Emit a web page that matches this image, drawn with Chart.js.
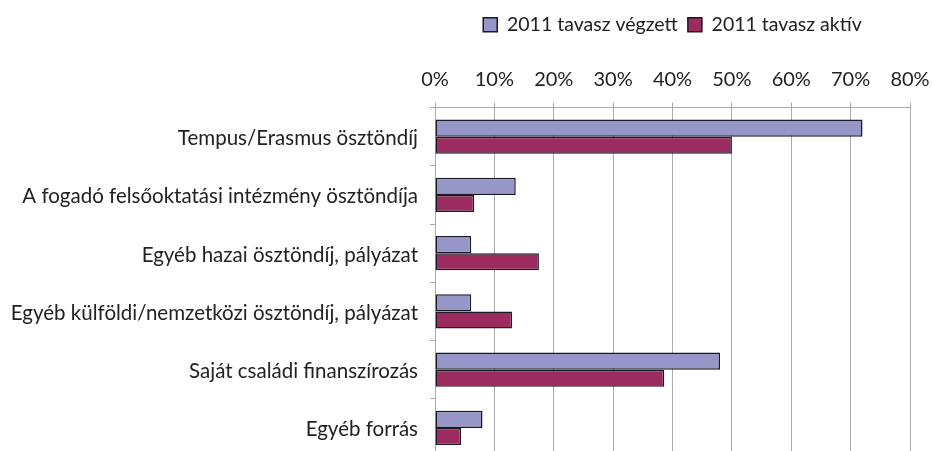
<!DOCTYPE html>
<html>
<head>
<meta charset="utf-8">
<script src="https://cdn.jsdelivr.net/npm/chart.js@4/dist/chart.umd.min.js"></script>
<style>
  html, body { margin: 0; padding: 0; background: #fff; overflow: hidden; }
  #wrap { width: 932px; height: 458px; }
</style>
</head>
<body>
<div id="wrap"><canvas id="myChart" width="932" height="458"></canvas></div>
<script>
// categories (top to bottom) and the two series, in percent
const categories = [
  "Tempus/Erasmus ösztöndíj",
  "A fogadó felsőoktatási intézmény ösztöndíja",
  "Egyéb hazai ösztöndíj, pályázat",
  "Egyéb külföldi/nemzetközi ösztöndíj, pályázat",
  "Saját családi finanszírozás",
  "Egyéb forrás"
]
const vegzett2011 = [72.0, 13.6, 6.1, 6.1, 48.0, 8.0]
const aktiv2011 = [50.0, 6.6, 17.5, 13.0, 38.6, 4.4]
const seriesNames = ["2011 tavasz végzett", "2011 tavasz aktív"]
const xTicks = [0, 10, 20, 30, 40, 50, 60, 70, 80]

const FONT = "Lato, 'Open Sans', sans-serif"
const GRID = "#ababab"

function updateGraph() {
  var ctx = document.getElementById('myChart').getContext('2d')
  var chart = new Chart(ctx, {
    type: 'bar',
    data: {
      labels: categories,
      datasets: [{
        label: seriesNames[0],
        data: vegzett2011,
        backgroundColor: '#9696c9',
        borderColor: '#1a1a24',
        borderWidth: 1.5,
        borderSkipped: false
      }, {
        label: seriesNames[1],
        data: aktiv2011,
        backgroundColor: '#9c2c5f',
        borderColor: '#1a1a24',
        borderWidth: 1.5,
        borderSkipped: false
      }]
    },
    options: {
      indexAxis: 'y',
      responsive: false,
      animation: false,
      categoryPercentage: 0.59,
      barPercentage: 1.0,
      layout: { padding: { top: 5, right: 0, bottom: 1, left: 0 } },
      plugins: {
        tooltip: { enabled: false },
        legend: {
          position: 'top',
          fullSize: false,
          labels: {
            boxWidth: 14,
            boxHeight: 14,
            padding: 10,
            color: '#222',
            font: { family: FONT, size: 19.5 }
          }
        }
      },
      scales: {
        x: {
          position: 'top',
          min: 0,
          max: 80,
          afterBuildTicks: function (scale) {
            scale.ticks = xTicks.map(function (v) { return { value: v } })
          },
          afterFit: function (scale) {
            scale.height = 63
            scale.paddingLeft = 0
            scale.paddingRight = 22
          },
          ticks: {
            color: '#222',
            padding: 11,
            maxRotation: 0,
            font: { family: FONT, size: 20 },
            callback: function (v) { return v + '%' }
          },
          grid: { color: GRID, lineWidth: 1, tickLength: 5 },
          border: { color: GRID }
        },
        y: {
          afterFit: function (scale) {
            scale.width = 435
            scale.paddingTop = 0
            scale.paddingBottom = 0
          },
          ticks: {
            color: '#222',
            padding: 12,
            labelOffset: 2,
            font: { family: FONT, size: 20.5 }
          },
          grid: { drawOnChartArea: false, color: GRID, tickLength: 5, offset: true },
          border: { color: GRID }
        }
      }
    }
  })
}

updateGraph()
</script>
</body>
</html>
